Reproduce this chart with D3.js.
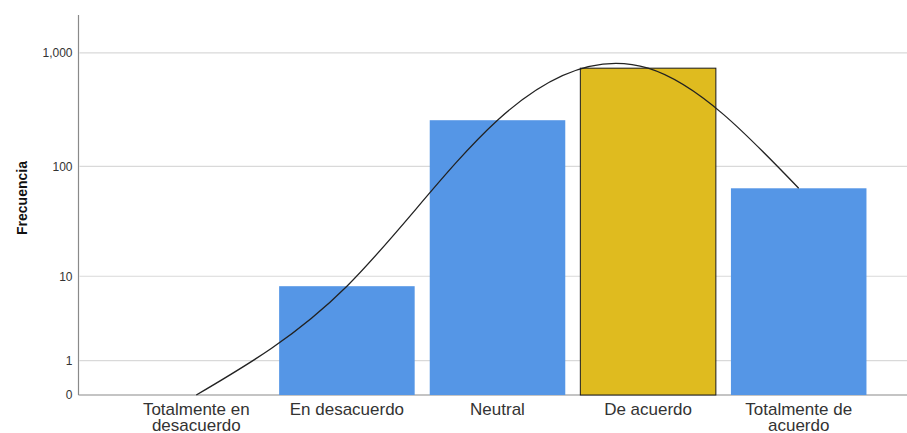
<!DOCTYPE html>
<html>
<head>
<meta charset="utf-8">
<script src="https://cdn.jsdelivr.net/npm/d3@7/dist/d3.min.js"></script>
<style>
  html, body { margin: 0; padding: 0; background: #fff; }
  svg { display: block; font-family: "Liberation Sans", Arial, sans-serif; }
</style>
</head>
<body>
<svg id="chart" width="907" height="433"></svg>
<script>
// Response categories (two-line labels split on "\n")
const categories = [
  "Totalmente en\ndesacuerdo",
  "En desacuerdo",
  "Neutral",
  "De acuerdo",
  "Totalmente de\nacuerdo"
];
// Frequencies per category
const frequencies = [0, 8, 256, 734, 64];
// Highlighted category
const highlighted = ["De acuerdo"];
// Y tick values
const yTicks = [0, 1, 10, 100, 1000];

const svg = d3.select("#chart");
const W = 907;
const plotLeft = 78.5, plotBottom = 395, plotTop = 15;

const x = d3.scaleBand()
  .domain(categories)
  .range([121, 874])
  .paddingInner(0.1)
  .paddingOuter(0.05);

const y = d3.scaleSymlog()
  .constant(1)
  .domain([0, 2150])
  .range([plotBottom, plotTop]);

// Gridlines
svg.append("g")
  .selectAll("line")
  .data(yTicks.filter(d => d > 0))
  .join("line")
  .attr("x1", plotLeft + 1).attr("x2", W)
  .attr("y1", d => y(d)).attr("y2", d => y(d))
  .attr("stroke", "#d9d9d9")
  .attr("stroke-width", 1.2);

// Y axis (labels only, no tick marks)
const yAxis = svg.append("g")
  .attr("transform", `translate(${plotLeft},0)`)
  .call(d3.axisLeft(y).tickValues(yTicks).tickFormat(d3.format(",")).tickSize(0).tickPadding(6));
yAxis.select(".domain").remove();
yAxis.selectAll("text")
  .attr("font-size", 12)
  .attr("fill", "#333")
  .attr("font-family", "Liberation Sans, Arial, sans-serif");

// Axis lines
svg.append("line")
  .attr("x1", plotLeft).attr("x2", plotLeft)
  .attr("y1", plotTop).attr("y2", plotBottom)
  .attr("stroke", "#8a8a8a").attr("stroke-width", 1.2);
svg.append("line")
  .attr("x1", plotLeft).attr("x2", W)
  .attr("y1", plotBottom).attr("y2", plotBottom)
  .attr("stroke", "#8a8a8a").attr("stroke-width", 1.2);

// Bars
const isHi = c => highlighted.includes(c.replace("\n", " "));
const rows = categories.map((c, i) => ({ c, v: frequencies[i] }));
svg.append("g")
  .selectAll("rect")
  .data(rows)
  .join("rect")
  .attr("x", d => x(d.c))
  .attr("width", x.bandwidth())
  .attr("y", d => y(d.v))
  .attr("height", d => y(0) - y(d.v))
  .attr("fill", d => isHi(d.c) ? "#dfbb1f" : "#5596e6")
  .attr("stroke", d => isHi(d.c) ? "#1a1a1a" : (d.v === 0 ? "#5e5e5e" : "none"))
  .attr("stroke-width", 1);

// Interpolation line through bar tops
const line = d3.line()
  .x(d => x(d.c) + x.bandwidth() / 2)
  .y(d => y(d.v))
  .curve(d3.curveNatural);
svg.append("path")
  .datum(rows)
  .attr("d", line)
  .attr("fill", "none")
  .attr("stroke", "#222")
  .attr("stroke-width", 1.3);

// X category labels
const xl = svg.append("g");
categories.forEach(c => {
  const cx = x(c) + x.bandwidth() / 2;
  const t = xl.append("text")
    .attr("x", cx)
    .attr("y", 415)
    .attr("text-anchor", "middle")
    .attr("font-size", 17)
    .attr("fill", "#333");
  c.split("\n").forEach((part, j) => {
    t.append("tspan")
      .attr("x", cx)
      .attr("dy", j === 0 ? 0 : 15.5)
      .text(part);
  });
});

// Y axis title
svg.append("text")
  .attr("transform", "translate(23,198) rotate(-90)")
  .attr("text-anchor", "middle")
  .attr("dominant-baseline", "middle")
  .attr("font-size", 14)
  .attr("font-weight", "bold")
  .attr("fill", "#111")
  .text("Frecuencia");
</script>
</body>
</html>
